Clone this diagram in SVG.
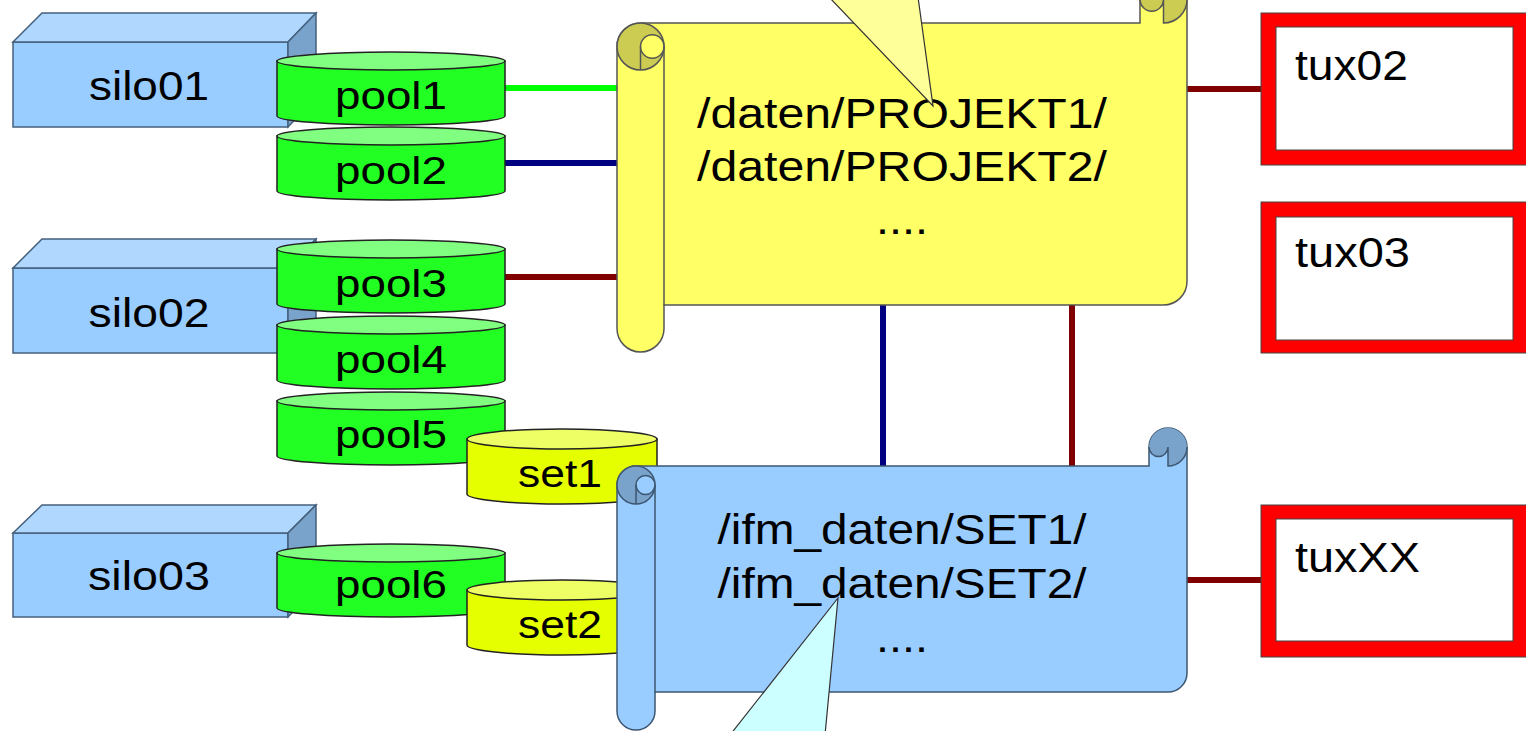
<svg xmlns="http://www.w3.org/2000/svg" width="1526" height="731" viewBox="0 0 1526 731">
<style>
text{font-family:"Liberation Sans",Arial,sans-serif;fill:#000}
.t39{font-size:39px}
.t41{font-size:41px}
.t42{font-size:42px}
.t43{font-size:43px}
.mid{text-anchor:middle}
.sfront{fill:#99ccff;stroke:#44607c;stroke-width:1.5}
.stop{fill:#b0d8ff;stroke:#44607c;stroke-width:1.5}
.sside{fill:#7aa3cc;stroke:#44607c;stroke-width:1.5}
.pbody{fill:#22ff22;stroke:#222;stroke-width:1.5}
.ptop{fill:#80ff80;stroke:#222;stroke-width:1.5}
.cbody{fill:#e6ff00;stroke:#222;stroke-width:1.5}
.ctop{fill:#eeff66;stroke:#222;stroke-width:1.5}
.ybody{fill:#ffff66;stroke:#555;stroke-width:1.5}
.ydark{fill:#cccc52;stroke:none}
.yline{fill:none;stroke:#555;stroke-width:1.5}
.ylite{fill:#ffff66;stroke:#555;stroke-width:1.5}
.bbody{fill:#99ccff;stroke:#3d5770;stroke-width:1.5}
.bdark{fill:#7aa3cc;stroke:none}
.bline{fill:none;stroke:#3d5770;stroke-width:1.5}
.blite{fill:#99ccff;stroke:#3d5770;stroke-width:1.5}
.tout{fill:#ff0000;stroke:#444;stroke-width:1}
.tin{fill:#ffffff;stroke:#444;stroke-width:1}
.conn{stroke-width:6;fill:none}
.green{stroke:#00ff00}
.navy{stroke:#000080}
.dred{stroke:#800000}
.call{stroke:#333;stroke-width:1.2}
</style>

<g id="connectors">
  <line class="conn green" x1="505" y1="88" x2="618" y2="88"/>
  <line class="conn navy" x1="505" y1="163" x2="618" y2="163"/>
  <line class="conn dred" x1="505" y1="277" x2="618" y2="277"/>
  <line class="conn navy" x1="883" y1="305" x2="883" y2="466"/>
  <line class="conn dred" x1="1072" y1="305" x2="1072" y2="466"/>
  <line class="conn dred" x1="1187" y1="89" x2="1261" y2="89"/>
  <line class="conn dred" x1="1187" y1="580" x2="1261" y2="580"/>
</g>

<g id="silo01">
  <rect class="sfront" x="13" y="42" width="275" height="85"/>
  <polygon class="stop" points="13,42 42,13 316,13 288,42"/>
  <polygon class="sside" points="288,42 316,13 316,98 288,127"/>
  <text class="t41 mid" x="149" y="100" textLength="120" lengthAdjust="spacingAndGlyphs">silo01</text>
</g>
<g id="silo02">
  <rect class="sfront" x="13" y="268" width="275" height="85"/>
  <polygon class="stop" points="13,268 42,239 316,239 288,268"/>
  <polygon class="sside" points="288,268 316,239 316,324 288,353"/>
  <text class="t41 mid" x="149" y="327" textLength="121" lengthAdjust="spacingAndGlyphs">silo02</text>
</g>
<g id="silo03">
  <rect class="sfront" x="13" y="533" width="275" height="84"/>
  <polygon class="stop" points="13,533 42,505 316,505 288,533"/>
  <polygon class="sside" points="288,533 316,505 316,589 288,617"/>
  <text class="t41 mid" x="149" y="590" textLength="122" lengthAdjust="spacingAndGlyphs">silo03</text>
</g>

<g id="pool1">
  <path class="pbody" d="M277,61 V116 A114,9 0 0 0 505,116 V61 Z"/>
  <ellipse class="ptop" cx="391" cy="61" rx="114" ry="9"/>
  <text class="t39 mid" x="391" y="109" textLength="112" lengthAdjust="spacingAndGlyphs">pool1</text>
</g>
<g id="pool2">
  <path class="pbody" d="M277,136 V191 A114,9 0 0 0 505,191 V136 Z"/>
  <ellipse class="ptop" cx="391" cy="136" rx="114" ry="9"/>
  <text class="t39 mid" x="391" y="184" textLength="112" lengthAdjust="spacingAndGlyphs">pool2</text>
</g>
<g id="pool3">
  <path class="pbody" d="M277,249 V304 A114,9 0 0 0 505,304 V249 Z"/>
  <ellipse class="ptop" cx="391" cy="249" rx="114" ry="9"/>
  <text class="t39 mid" x="391" y="297" textLength="112" lengthAdjust="spacingAndGlyphs">pool3</text>
</g>
<g id="pool4">
  <path class="pbody" d="M277,325 V380 A114,9 0 0 0 505,380 V325 Z"/>
  <ellipse class="ptop" cx="391" cy="325" rx="114" ry="9"/>
  <text class="t39 mid" x="391" y="373" textLength="112" lengthAdjust="spacingAndGlyphs">pool4</text>
</g>
<g id="pool5">
  <path class="pbody" d="M277,401 V456 A114,9 0 0 0 505,456 V401 Z"/>
  <ellipse class="ptop" cx="391" cy="401" rx="114" ry="9"/>
  <text class="t39 mid" x="391" y="448" textLength="112" lengthAdjust="spacingAndGlyphs">pool5</text>
</g>
<g id="pool6">
  <path class="pbody" d="M277,553 V608 A114,9 0 0 0 505,608 V553 Z"/>
  <ellipse class="ptop" cx="391" cy="553" rx="114" ry="9"/>
  <text class="t39 mid" x="391" y="598" textLength="112" lengthAdjust="spacingAndGlyphs">pool6</text>
</g>
<g id="set1">
  <path class="cbody" d="M467,439 V494 A95,10 0 0 0 657,494 V439 Z"/>
  <ellipse class="ctop" cx="562" cy="439" rx="95" ry="10"/>
  <text class="t39 mid" x="560" y="487" textLength="84" lengthAdjust="spacingAndGlyphs">set1</text>
</g>
<g id="set2">
  <path class="cbody" d="M467,590 V645 A95,10 0 0 0 657,645 V590 Z"/>
  <ellipse class="ctop" cx="562" cy="590" rx="95" ry="10"/>
  <text class="t39 mid" x="560" y="638" textLength="84" lengthAdjust="spacingAndGlyphs">set2</text>
</g>

<g id="scroll-daten">
  <path class="ybody" d="M617,46.5 A23.5,23.5 0 0 1 640.5,23 L1140,23 L1140,-0.5 A23.5,23.5 0 0 1 1187,-0.5 L1187,281.5 A23.5,23.5 0 0 1 1163.5,305 L664,305 L664,328.5 A23.5,23.5 0 0 1 640.5,352 A23.5,23.5 0 0 1 617,328.5 Z"/>
  <path class="ydark" d="M1163.5,23 A23.5,23.5 0 1 0 1140,-0.5 A11.75,11.75 0 0 0 1163.5,-0.5 Z"/>
  <path class="yline" d="M1187,-0.5 A23.5,23.5 0 0 1 1163.5,23 V-0.5 M1140,-0.5 A11.75,11.75 0 0 0 1163.5,-0.5"/>
  <circle class="ydark" cx="640.5" cy="46.5" r="23.5"/>
  <circle class="yline" cx="640.5" cy="46.5" r="23.5"/>
  <circle class="ylite" cx="652.25" cy="46.5" r="11.75"/>
  <path class="yline" d="M640.5,46.5 V70 M664,46.5 V305"/>
  <text class="t43 mid" x="902" y="128" textLength="410" lengthAdjust="spacingAndGlyphs">/daten/PROJEKT1/</text>
  <text class="t43 mid" x="902" y="181" textLength="410" lengthAdjust="spacingAndGlyphs">/daten/PROJEKT2/</text>
  <text class="t43 mid" x="902" y="234" textLength="52" lengthAdjust="spacingAndGlyphs">....</text>
</g>

<g id="scroll-ifm">
  <path class="bbody" d="M617,485 A19,19 0 0 1 636,466 L1149,466 L1149,447 A19,19 0 0 1 1187,447 L1187,673 A19,19 0 0 1 1168,692 L655,692 L655,711 A19,19 0 0 1 636,730 A19,19 0 0 1 617,711 Z"/>
  <path class="bdark" d="M1168,466 A19,19 0 1 0 1149,447 A9.5,9.5 0 0 0 1168,447 Z"/>
  <path class="bline" d="M1187,447 A19,19 0 0 1 1168,466 V447 M1149,447 A9.5,9.5 0 0 0 1168,447"/>
  <circle class="bdark" cx="636" cy="485" r="19"/>
  <circle class="bline" cx="636" cy="485" r="19"/>
  <circle class="blite" cx="645.5" cy="485" r="9.5"/>
  <path class="bline" d="M636,485 V504 M655,485 V692"/>
  <text class="t43 mid" x="902" y="544" textLength="369" lengthAdjust="spacingAndGlyphs">/ifm_daten/SET1/</text>
  <text class="t43 mid" x="902" y="598" textLength="369" lengthAdjust="spacingAndGlyphs">/ifm_daten/SET2/</text>
  <text class="t43 mid" x="902" y="652" textLength="52" lengthAdjust="spacingAndGlyphs">....</text>
</g>

<g id="callout-top">
  <polygon class="call" fill="#ffff99" points="829,-3 933,106 918,-3"/>
</g>
<g id="callout-bottom">
  <polygon class="call" fill="#ccffff" points="838,598 730,735 825,735"/>
</g>

<g id="tux02">
  <rect class="tout" x="1261" y="13" width="270" height="152"/>
  <rect class="tin" x="1276" y="27" width="237" height="123"/>
  <text class="t42" x="1295" y="80" textLength="113" lengthAdjust="spacingAndGlyphs">tux02</text>
</g>
<g id="tux03">
  <rect class="tout" x="1261" y="202" width="270" height="151"/>
  <rect class="tin" x="1276" y="217" width="237" height="123"/>
  <text class="t42" x="1295" y="267" textLength="115" lengthAdjust="spacingAndGlyphs">tux03</text>
</g>
<g id="tuxXX">
  <rect class="tout" x="1261" y="505" width="270" height="152"/>
  <rect class="tin" x="1276" y="519" width="237" height="122"/>
  <text class="t42" x="1295" y="572" textLength="125" lengthAdjust="spacingAndGlyphs">tuxXX</text>
</g>
</svg>
